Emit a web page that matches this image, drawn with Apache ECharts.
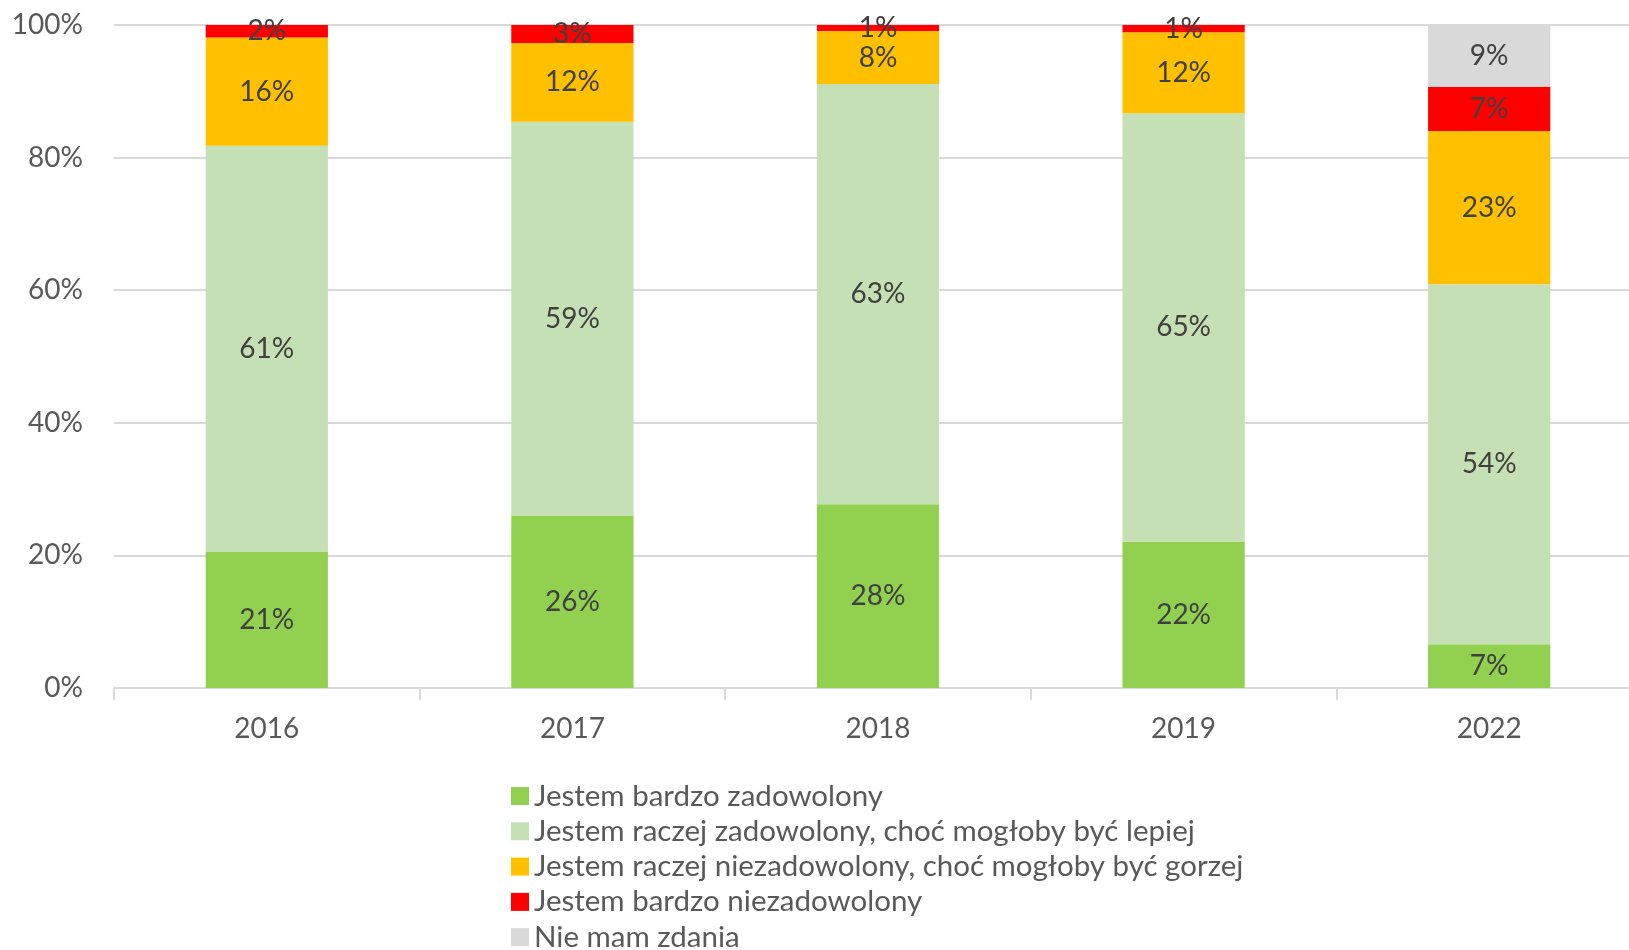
<!DOCTYPE html>
<html>
<head>
<meta charset="utf-8">
<script src="https://cdn.jsdelivr.net/npm/echarts@6/dist/echarts.min.js"></script>
<style>html,body{margin:0;padding:0;background:#fff;overflow:hidden}#c{width:1642px;height:950px}</style>
</head>
<body>
<div id="c"></div>
<script>
const categories = ['2016', '2017', '2018', '2019', '2022'];
const seriesNames = [
  'Jestem bardzo zadowolony',
  'Jestem raczej zadowolony, choć mogłoby być lepiej',
  'Jestem raczej niezadowolony, choć mogłoby być gorzej',
  'Jestem bardzo niezadowolony',
  'Nie mam zdania'
];
const bardzoZadowolony = [20.6, 26.0, 27.7, 22.1, 6.6];
const raczejZadowolony = [61.2, 59.4, 63.4, 64.6, 54.3];
const raczejNiezadowolony = [16.3, 11.9, 8.0, 12.2, 23.1];
const bardzoNiezadowolony = [1.9, 2.7, 0.9, 1.1, 6.7];
const nieMamZdania = [null, null, null, null, 9.3];
const yTicks = [0, 20, 40, 60, 80, 100];

const colors = ['#92d050', '#c5e0b4', '#ffc000', '#ff0000', '#d9d9d9'];
const dataSets = [bardzoZadowolony, raczejZadowolony, raczejNiezadowolony, bardzoNiezadowolony, nieMamZdania];
const FONT = 'Lato';

const chart = echarts.init(document.getElementById('c'));
chart.setOption({
  animation: false,
  textStyle: { fontFamily: FONT },
  grid: { left: 114, right: 0, top: 25, bottom: 262, containLabel: false },
  legend: seriesNames.map((name, i) => ({
    orient: 'vertical',
    left: 511,
    top: 781 + i * 35.3,
    padding: 0,
    icon: 'rect',
    itemWidth: 18,
    itemHeight: 18,
    textStyle: { fontSize: 29.5, color: '#595959', fontFamily: FONT },
    data: [name]
  })),
  xAxis: {
    type: 'category',
    data: categories,
    axisLine: { lineStyle: { color: '#d9d9d9', width: 2 } },
    axisTick: { show: true, length: 12, lineStyle: { color: '#d9d9d9', width: 2 } },
    axisLabel: { fontSize: 28, color: '#595959', margin: 27, fontFamily: FONT }
  },
  yAxis: {
    type: 'value',
    min: yTicks[0],
    max: yTicks[yTicks.length - 1],
    interval: 20,
    axisLine: { show: false },
    axisTick: { show: false },
    splitLine: { lineStyle: { color: '#d9d9d9', width: 2 } },
    axisLabel: { fontSize: 28, color: '#595959', margin: 31, formatter: '{value}%', fontFamily: FONT }
  },
  series: seriesNames.map((name, i) => ({
    name: name,
    type: 'bar',
    stack: 'total',
    barWidth: '40%',
    itemStyle: { color: colors[i] },
    label: {
      show: true,
      position: 'inside',
      fontSize: 28,
      color: '#404040',
      fontFamily: FONT,
      formatter: p => p.value == null ? '' : Math.round(p.value) + '%'
    },
    data: dataSets[i]
  }))
});
</script>
</body>
</html>
